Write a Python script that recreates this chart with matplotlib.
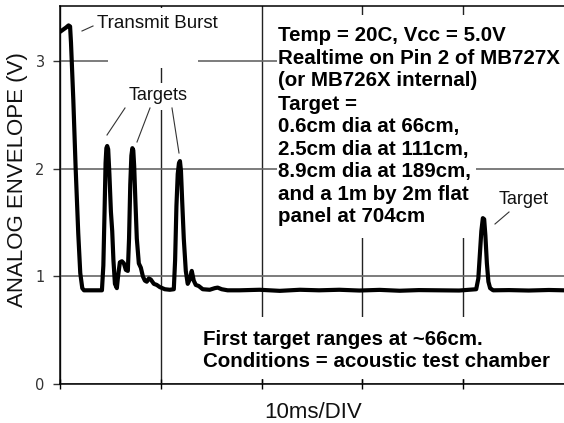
import matplotlib
matplotlib.use("Agg")
import matplotlib.pyplot as plt
from matplotlib.patches import Rectangle

# trace (time in ms, envelope in volts)
time_ms = [0.0, 0.3, 0.6, 0.85, 1.0, 1.09, 1.32, 1.55, 1.81, 2.01, 2.21, 2.38,
           3.47, 4.16, 4.3, 4.42, 4.52, 4.6, 4.68, 4.78, 4.9, 5.05, 5.18, 5.3,
           5.45, 5.64, 5.76, 5.94, 6.14, 6.34, 6.53, 6.73, 6.85, 6.97, 7.08,
           7.18, 7.27, 7.36, 7.48, 7.62, 7.82, 8.02, 8.22, 8.42, 8.61, 8.81,
           9.01, 9.31, 9.6, 9.9, 10.4, 10.89, 11.29, 11.42, 11.55, 11.68, 11.8,
           11.9, 12.0, 12.12, 12.28, 12.48, 12.67, 12.87, 13.07, 13.27, 13.47,
           13.76, 14.16, 14.85, 15.35, 15.64, 16.04, 16.63, 17.8, 19.8, 21.8,
           23.8, 25.7, 27.7, 29.7, 31.7, 33.7, 35.6, 37.6, 39.6, 41.29, 41.5,
           41.65, 41.8, 41.95, 42.08, 42.2, 42.35, 42.5, 42.67, 42.97, 44.55,
           46.5, 48.5, 50.0]
envelope_v = [3.27, 3.29, 3.31, 3.33, 3.32, 3.17, 2.64, 2.01, 1.40, 1.03, 0.89, 0.87,
              0.87, 0.87, 1.10, 1.60, 2.05, 2.19, 2.21, 2.18, 1.95, 1.60, 1.42, 1.15,
              0.93, 0.89, 1.00, 1.13, 1.14, 1.12, 1.06, 1.05, 1.35, 1.85, 2.12,
              2.19, 2.17, 2.02, 1.70, 1.35, 1.12, 1.08, 1.00, 0.96, 0.95, 0.98,
              0.97, 0.93, 0.92, 0.90, 0.88, 0.875, 0.88, 1.15, 1.65, 1.95, 2.05,
              2.07, 1.98, 1.70, 1.35, 1.05, 0.93, 0.97, 1.05, 0.96, 0.92,
              0.91, 0.88, 0.875, 0.89, 0.895, 0.88, 0.87, 0.87, 0.875, 0.865,
              0.875, 0.87, 0.875, 0.868, 0.874, 0.866, 0.872, 0.87, 0.868, 0.88, 0.98,
              1.20, 1.42, 1.54, 1.53, 1.38, 1.12, 0.95, 0.89, 0.87, 0.872,
              0.868, 0.873, 0.87]

y_ticks = [0, 1, 2, 3]
x_div = [0, 10, 20, 30, 40]

info_head = ["Temp = 20C, Vcc = 5.0V",
             "Realtime on Pin 2 of MB727X",
             "(or MB726X internal)"]
info_targets = ["Target =",
                "0.6cm dia at 66cm,",
                "2.5cm dia at 111cm,",
                "8.9cm dia at 189cm,",
                "and a 1m by 2m flat",
                "panel at 704cm"]
note_lines = ["First target ranges at ~66cm.",
              "Conditions = acoustic test chamber"]

W, H = 564, 423
fig = plt.figure(figsize=(W / 100, H / 100), dpi=100)
ax = fig.add_axes([60 / W, (H - 384) / H, 1 - 60 / W, (384 - 6) / H])


def fp(x, y):
    # pixel position (from top-left) -> figure fraction
    return (x / W, 1 - y / H)


def mask(x0, y0, x1, y1):
    ax.add_patch(Rectangle(fp(x0, y1), (x1 - x0) / W, (y1 - y0) / H,
                           transform=fig.transFigure, facecolor="white",
                           edgecolor="none", zorder=2.8))


ax.plot(time_ms, envelope_v, color="black", lw=3.0, zorder=4,
        solid_joinstyle="round", solid_capstyle="round")

ax.set_xlim(0, 50)
ax.set_ylim(0, 3.51)
ax.set_xticks(x_div)
ax.set_xticklabels([])
ax.set_yticks(y_ticks)
ax.tick_params(axis="x", direction="inout", length=7, width=1, color="black")
ax.tick_params(axis="y", direction="out", length=5, width=1, color="#333",
               labelsize=10.5, labelcolor="#333", pad=6)
ax.xaxis.grid(True, color="#222", lw=1)
ax.yaxis.grid(True, color="#666", lw=1.2)
ax.spines["right"].set_visible(False)
for s in ["left", "bottom", "top"]:
    ax.spines[s].set_zorder(5)
    ax.spines[s].set_linewidth(1.1)

# white areas that hide the grid behind the notes
mask(108, 8, 198, 68)
mask(124, 83, 192, 110)
mask(277, 15, 564, 90)
mask(277, 90, 476, 238)
mask(200, 317, 557, 379)

font = "Liberation Sans"
ax.text(*fp(97, 23), "Transmit Burst", transform=fig.transFigure, fontsize=13.5,
        family=font, color="#111", va="center", ha="left", zorder=3.5)
ax.text(*fp(158, 95), "Targets", transform=fig.transFigure, fontsize=13,
        family=font, color="#111", va="center", ha="center", zorder=3.5)
ax.text(*fp(524, 199), "Target", transform=fig.transFigure, fontsize=13,
        family=font, color="#111", va="center", ha="center", zorder=3.5)

bold = dict(transform=fig.transFigure, fontsize=14.8, family=font,
            fontweight="bold", color="black", va="top", ha="left", zorder=3.5)
ax.text(*fp(278, 26), "\n".join(info_head), linespacing=1.24, **bold)
ax.text(*fp(278, 94.5), "\n".join(info_targets), linespacing=1.24, **bold)
ax.text(*fp(203, 330), "\n".join(note_lines), linespacing=1.18, **bold)

# thin leader lines from the labels to the echoes
leaders = [((82, 31), (93, 26)),
           ((125, 108), (107, 135)),
           ((150, 108), (137, 142)),
           ((172, 108), (179, 153)),
           ((509, 212), (495, 224))]
for a, b in leaders:
    (x0, y0), (x1, y1) = fp(*a), fp(*b)
    ax.plot([x0, x1], [y0, y1], transform=fig.transFigure, color="#333",
            lw=0.8, zorder=3.6, clip_on=False)

fig.text(*fp(18, 180), "ANALOG ENVELOPE (V)", rotation=90, fontsize=16,
         family=font, color="#111", va="center", ha="center")
fig.text(*fp(313, 412), "10ms/DIV", fontsize=16, family=font, color="#111",
         va="center", ha="center")

fig.savefig("out.png", dpi=100)
